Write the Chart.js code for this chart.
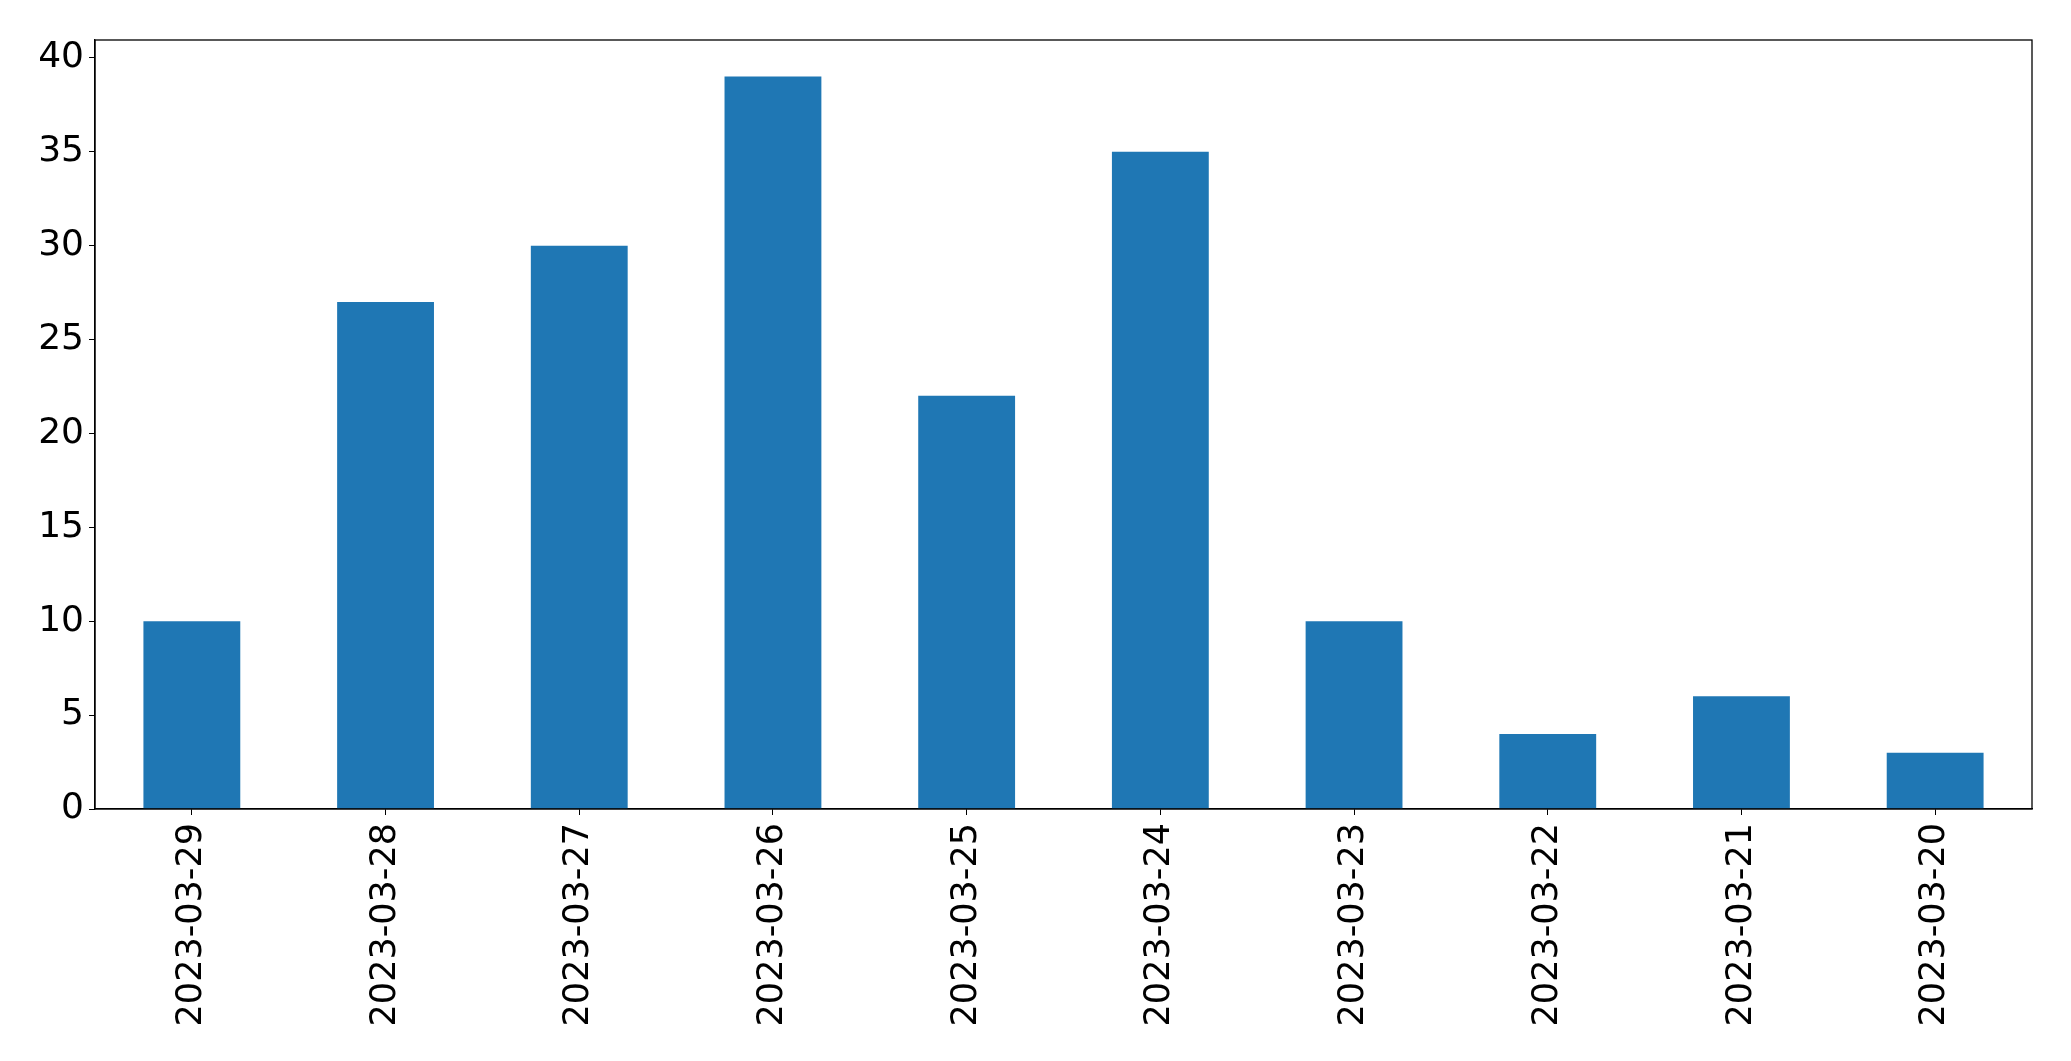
<!DOCTYPE html>
<html>
<head>
    <title>Daily counts</title>
    <script src="https://cdn.jsdelivr.net/npm/chart.js"></script>
    <style>
        html, body { margin: 0; padding: 0; background: #fff; }
        #wrap { width: 2071px; height: 1061px; }
    </style>
</head>
<body>
    <div id="wrap"><canvas id="barChart"></canvas></div>
    <script>
        const dates = ['2023-03-29', '2023-03-28', '2023-03-27', '2023-03-26', '2023-03-25',
                       '2023-03-24', '2023-03-23', '2023-03-22', '2023-03-21', '2023-03-20'];
        const counts = [10, 27, 30, 39, 22, 35, 10, 4, 6, 3];
        const yTicks = [0, 5, 10, 15, 20, 25, 30, 35, 40];

        // draws the top and right sides of the axes box
        const frame = {
            id: 'frame',
            afterDraw(chart) {
                const a = chart.chartArea;
                const ctx = chart.ctx;
                ctx.save();
                ctx.strokeStyle = '#000';
                ctx.lineWidth = 1.3;
                ctx.strokeRect(a.left, a.top, a.right - a.left, a.bottom - a.top);
                ctx.restore();
            }
        };

        Chart.defaults.color = '#000';
        Chart.defaults.font.family = 'DejaVu Sans';

        const ctx = document.getElementById('barChart').getContext('2d');
        new Chart(ctx, {
            type: 'bar',
            data: {
                labels: dates,
                datasets: [{
                    data: counts,
                    backgroundColor: '#1f77b4',
                    barPercentage: 0.5,
                    categoryPercentage: 1.0
                }]
            },
            options: {
                responsive: true,
                maintainAspectRatio: false,
                animation: false,
                layout: { padding: { left: 0, top: 40, right: 39, bottom: 0 } },
                plugins: { legend: { display: false }, tooltip: { enabled: false } },
                scales: {
                    x: {
                        offset: true,
                        grid: { display: true, drawOnChartArea: false, drawTicks: true, tickLength: 6, color: '#000', offset: false },
                        border: { display: true, color: '#000', width: 1.3 },
                        ticks: { minRotation: 90, maxRotation: 90, padding: 8, font: { size: 35 } },
                        afterFit(scale) { scale.height = 252; }
                    },
                    y: {
                        min: 0,
                        max: 40.95,
                        grid: { display: true, drawOnChartArea: false, drawTicks: true, tickLength: 6, color: '#000' },
                        border: { display: true, color: '#000', width: 1.3 },
                        ticks: { stepSize: 5, padding: 5, font: { size: 36 } },
                        afterBuildTicks(scale) { scale.ticks = yTicks.map(v => ({ value: v })); },
                        afterFit(scale) { scale.width = 95; }
                    }
                }
            },
            plugins: [frame]
        });
    </script>
</body>
</html>
